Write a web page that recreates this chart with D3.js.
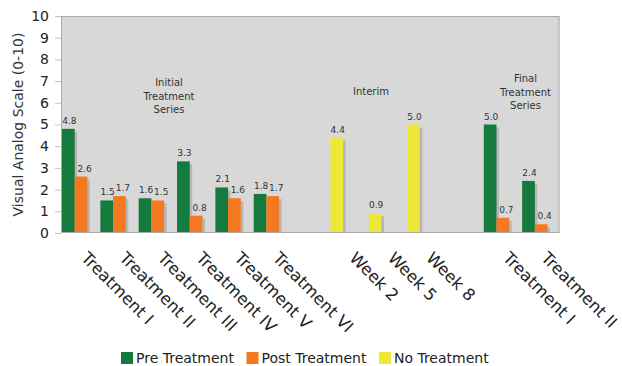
<!DOCTYPE html>
<html>
<head>
<meta charset="utf-8">
<script src="https://cdn.jsdelivr.net/npm/d3@7"></script>
<style>
  html, body { margin: 0; padding: 0; background: #ffffff; }
  svg { display: block; font-family: "DejaVu Sans", Verdana, sans-serif; }
</style>
</head>
<body>
<svg id="chart" width="622" height="366"></svg>
<script>
// Category labels along the x axis (blank entries are spacer slots between phases)
const categories = [
  "Treatment I", "Treatment II", "Treatment III", "Treatment IV", "Treatment V", "Treatment VI",
  "", "Week 2", "Week 5", "Week 8", "", "Treatment I", "Treatment II"
];
// Pain scores per slot (null = no bar)
const preValues  = [4.8, 1.5, 1.6, 3.3, 2.1, 1.8, null, null, null, null, null, 5.0, 2.4];
const postValues = [2.6, 1.7, 1.5, 0.8, 1.6, 1.7, null, null, null, null, null, 0.7, 0.4];
const noValues   = [null, null, null, null, null, null, null, 4.4, 0.9, 5.0, null, null, null];

const seriesNames = ["Pre Treatment", "Post Treatment", "No Treatment"];
const seriesColors = ["#157a3d", "#f47920", "#ece83a"];
const yTicks = [0, 1, 2, 3, 4, 5, 6, 7, 8, 9, 10];
const yTitle = "Visual Analog Scale (0-10)";
// Phase captions
const phaseNotes = [
  { lines: ["Initial", "Treatment", "Series"] },
  { lines: ["Interim"] },
  { lines: ["Final", "Treatment", "Series"] }
];

const svg = d3.select("#chart");
const plot = { left: 61, right: 559.5, top: 16, bottom: 233 };

const x = d3.scaleBand()
  .domain(d3.range(categories.length))
  .range([plot.left, plot.right])
  .padding(0);
const sub = d3.scaleBand()
  .domain(["pre", "post"])
  .range([1, 26.4])
  .padding(0);
const y = d3.scaleLinear().domain([0, 10]).range([plot.bottom, plot.top]);

// Plot area background
svg.append("rect")
  .attr("x", plot.left).attr("y", plot.top)
  .attr("width", plot.right - plot.left).attr("height", plot.bottom - plot.top)
  .attr("fill", "#d8d8d8");

// Y axis
const yAxis = svg.append("g")
  .attr("transform", `translate(${plot.left},0)`)
  .call(d3.axisLeft(y).tickValues(yTicks).tickFormat(d3.format("d")).tickSize(6).tickPadding(6));
yAxis.select(".domain").remove();
yAxis.selectAll(".tick line").attr("stroke", "#c4c4c4");
yAxis.selectAll(".tick text")
  .attr("fill", "#222")
  .style("font-size", "14px")
  .style("font-family", "'DejaVu Sans', Verdana, sans-serif");

// Y axis title
svg.append("text")
  .attr("transform", `translate(23,${(plot.top + plot.bottom) / 2}) rotate(-90)`)
  .attr("text-anchor", "middle")
  .attr("fill", "#333")
  .style("font-size", "14px")
  .text(yTitle);

// Build bar records from the series arrays
const bars = [];
categories.forEach((c, i) => {
  if (preValues[i] != null) bars.push({ i, v: preValues[i], pos: "pre", color: seriesColors[0], dx: 1 });
  if (postValues[i] != null) bars.push({ i, v: postValues[i], pos: "post", color: seriesColors[1], dx: 3.5 });
  if (noValues[i] != null) bars.push({ i, v: noValues[i], pos: "pre", color: seriesColors[2], dx: 1 });
});

const barX = d => x(d.i) + sub(d.pos);
const bw = sub.bandwidth();

// Drop shadows
svg.append("g").selectAll("rect")
  .data(bars).join("rect")
  .attr("x", d => barX(d) + 2.5)
  .attr("y", d => y(d.v) + 3)
  .attr("width", bw)
  .attr("height", d => Math.max(0, y(0) - y(d.v) - 3))
  .attr("fill", "#9a9a9a")
  .attr("opacity", 0.55);

// Bars
svg.append("g").selectAll("rect")
  .data(bars).join("rect")
  .attr("x", barX)
  .attr("y", d => y(d.v))
  .attr("width", bw)
  .attr("height", d => y(0) - y(d.v))
  .attr("fill", d => d.color);

// Value labels
svg.append("g").selectAll("text")
  .data(bars).join("text")
  .attr("x", d => barX(d) + bw / 2 + d.dx)
  .attr("y", d => y(d.v) - 5)
  .attr("text-anchor", "middle")
  .attr("fill", "#333")
  .style("font-size", "9px")
  .text(d => d3.format(".1f")(d.v));

// Plot border
svg.append("rect")
  .attr("x", plot.left + 0.5).attr("y", plot.top + 0.5)
  .attr("width", plot.right - plot.left - 1).attr("height", plot.bottom - plot.top - 1)
  .attr("fill", "none")
  .attr("stroke", "#a9a9a9");

// Phase captions: centre x and first baseline for each block
const noteAnchors = [[169, 86], [371, 95], [525.5, 82]];
phaseNotes.forEach((n, j) => {
  const t = svg.append("text")
    .attr("text-anchor", "middle")
    .attr("fill", "#333")
    .style("font-size", "10px");
  n.lines.forEach((line, k) => {
    t.append("tspan")
      .attr("x", noteAnchors[j][0])
      .attr("y", noteAnchors[j][1] + k * 13.5)
      .text(line);
  });
});

// Rotated category labels
const xAxis = svg.append("g")
  .attr("transform", `translate(0,${plot.bottom})`)
  .call(d3.axisBottom(x).tickFormat(i => categories[i]).tickSize(0).tickPadding(0));
xAxis.select(".domain").remove();
xAxis.selectAll(".tick text")
  .attr("transform", "translate(0,26) rotate(45)")
  .attr("y", 0).attr("dy", 0)
  .attr("text-anchor", "start")
  .attr("fill", "#222")
  .style("font-size", "16.5px")
  .style("font-family", "'DejaVu Sans', Verdana, sans-serif");

// Legend
const legend = svg.append("g").attr("transform", "translate(0,358)");
let lx = 121;
seriesNames.forEach((name, k) => {
  legend.append("rect")
    .attr("x", lx).attr("y", -6)
    .attr("width", 12).attr("height", 12)
    .attr("fill", seriesColors[k]);
  const t = legend.append("text")
    .attr("x", lx + 15).attr("y", 5)
    .attr("fill", "#222")
    .style("font-size", "14px")
    .text(name);
  lx += 15 + t.node().getComputedTextLength() + 12.5;
});
</script>
</body>
</html>
